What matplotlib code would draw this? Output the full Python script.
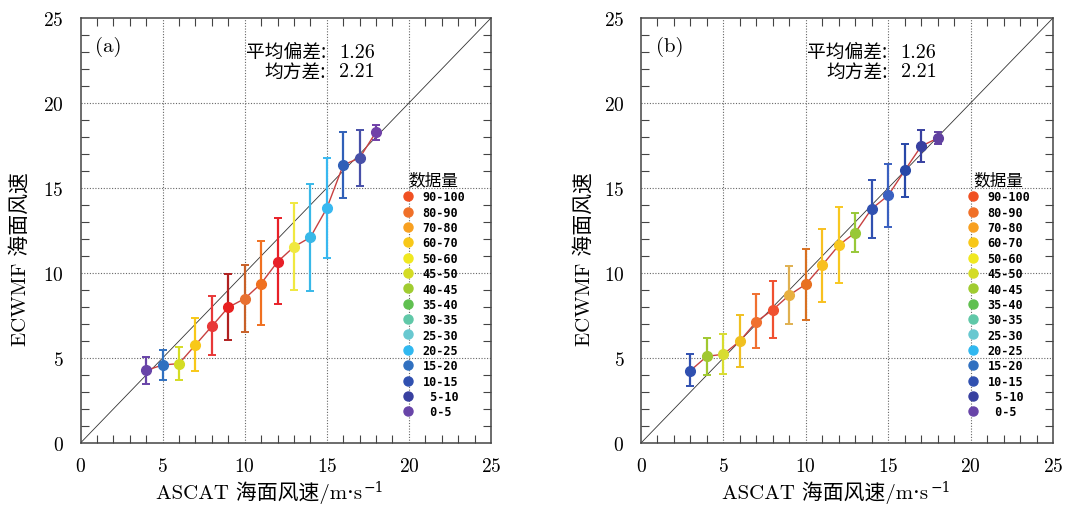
import matplotlib
matplotlib.use('Agg')
import matplotlib.pyplot as plt
from matplotlib.lines import Line2D
from matplotlib.ticker import FixedLocator

plt.rcParams['font.family'] = ['cmr10', 'DejaVu Serif', 'Noto Sans CJK SC']
plt.rcParams['axes.unicode_minus'] = False
plt.rcParams['axes.formatter.use_mathtext'] = True

# legend bins (数据量) and their colours
bins = ['90-100', '80-90', '70-80', '60-70', '50-60', '45-50', '40-45', '35-40',
        '30-35', '25-30', '20-25', '15-20', '10-15', ' 5-10', ' 0-5']
bin_colors = ['#f05022', '#f07028', '#f8a020', '#f8c818', '#f0e820', '#d4dc24',
              '#a0cc30', '#60c050', '#60c8a8', '#68c8d0', '#30b8f0', '#3070c0',
              '#3050b0', '#3840a0', '#6844a8']

# panel (a)
xa = [4, 5, 6, 7, 8, 9, 10, 11, 12, 13, 14, 15, 16, 17, 18]
ya = [4.27, 4.59, 4.67, 5.77, 6.87, 7.98, 8.49, 9.38, 10.66, 11.54, 12.10, 13.81, 16.35, 16.77, 18.30]
ya_hi = [5.04, 5.50, 5.63, 7.37, 8.63, 9.97, 10.48, 11.86, 13.22, 14.09, 15.23, 16.78, 18.30, 18.40, 18.72]
ya_lo = [3.49, 3.70, 3.68, 4.21, 5.16, 6.05, 6.52, 6.95, 8.16, 9.02, 8.96, 10.87, 14.42, 15.13, 17.85]
ca = ['#6844a8', '#3070c0', '#d4dc24', '#f8c818', '#e83838', '#e82020', '#e87030',
      '#f07020', '#e82028', '#f0e840', '#38b8e8', '#38b8f0', '#3060b8', '#4850a8', '#7040a8']
ea = ['#6844a8', '#3070c0', '#d4dc24', '#f8c818', '#e83838', '#b02020', '#c86028',
      '#f07020', '#e82028', '#f0e840', '#38b8e8', '#38b8f0', '#3060b8', '#4850a8', '#7040a8']

# panel (b)
xb = [3, 4, 5, 6, 7, 8, 9, 10, 11, 12, 13, 14, 15, 16, 17, 18]
yb = [4.26, 5.10, 5.22, 6.00, 7.14, 7.84, 8.70, 9.34, 10.46, 11.63, 12.38, 13.78, 14.56, 16.03, 17.46, 17.93]
yb_hi = [5.22, 6.18, 6.39, 7.53, 8.76, 9.52, 10.40, 11.44, 12.61, 13.86, 13.55, 15.50, 16.42, 17.60, 18.42, 18.32]
yb_lo = [3.36, 4.01, 4.05, 4.48, 5.57, 6.16, 7.00, 7.26, 8.29, 9.40, 11.24, 12.08, 12.69, 14.45, 16.52, 17.58]
cb = ['#3050b0', '#a0c830', '#d8dc30', '#f0c020', '#f07030', '#f05030', '#e8b040',
      '#e87020', '#f8c020', '#f8c820', '#98c838', '#3050b0', '#3a60c0', '#2848a8', '#3840a0', '#6040a0']
eb = ['#3050b0', '#a0c830', '#d8dc30', '#f0c020', '#f07030', '#f05030', '#e0b050',
      '#d87020', '#f8c020', '#f8c820', '#98c838', '#3050b0', '#3a60c0', '#2848a8', '#3840a0', '#6040a0']

bias = 1.26
rmse = 2.21


def draw_panel(ax, x, y, hi, lo, cols, ecols, tag, leg_x):
    ax.plot([0, 25], [0, 25], color='#333333', lw=0.6, zorder=2)
    ax.plot(x, y, color='#c84040', lw=1.0, zorder=3)
    for xi, yi, h, l, c, e in zip(x, y, hi, lo, cols, ecols):
        ax.errorbar(xi, yi, yerr=[[yi - l], [h - yi]], fmt='o', color=c, ecolor=e,
                    ms=7, mec=c, elinewidth=1.6, capsize=3, capthick=1.4, zorder=4)
    ax.set_xlim(0, 25)
    ax.set_ylim(0, 25)
    for g in [5, 10, 15, 20]:
        ax.axvline(g, color='#666666', ls=(0, (1, 1.5)), lw=0.8, zorder=1)
        ax.axhline(g, color='#666666', ls=(0, (1, 1.5)), lw=0.8, zorder=1)
    ax.xaxis.set_major_locator(FixedLocator([0, 5, 10, 15, 20, 25]))
    ax.yaxis.set_major_locator(FixedLocator([0, 5, 10, 15, 20, 25]))
    minors = [i for i in range(1, 25) if i % 5]
    ax.xaxis.set_minor_locator(FixedLocator(minors))
    ax.yaxis.set_minor_locator(FixedLocator(minors))
    ax.tick_params(which='major', length=0, labelsize=14)
    ax.tick_params(axis='x', which='major', pad=10)
    ax.tick_params(axis='y', which='major', pad=12)
    ax.tick_params(which='minor', direction='in', length=6, width=0.8, color='#444444',
                   top=True, right=True)
    for s in ax.spines.values():
        s.set_color('#444444')
        s.set_linewidth(1.1)
    ax.set_xlabel('ASCAT 海面风速/m·s', fontsize=15)
    ax.annotate('−1', xy=(1, 1), xycoords=ax.xaxis.label, xytext=(1.5, 0.5),
                textcoords='offset points', ha='left', va='top', fontsize=10,
                family=['DejaVu Serif'])
    ax.set_ylabel('ECWMF 海面风速', fontsize=15)
    ax.text(0.88, 23.37, tag, fontsize=15, va='center', ha='left')
    # statistics block: labels right-aligned at the colon, numbers after it
    ax.text(14.95, 22.45, '平均偏差:\n均方差:', fontsize=13.5, va='center', ha='right',
            multialignment='right', linespacing=0.95, family=['Noto Sans CJK SC'])
    ax.text(15.75, 22.45, f'{bias:.2f}\n{rmse:.2f}', fontsize=14.5, va='center',
            ha='left', linespacing=1.05)
    handles = [Line2D([], [], marker='o', ls='none', color=c, ms=6.5) for c in bin_colors]
    ax.legend(handles, bins, title='数据量', loc='upper left',
              bbox_to_anchor=(leg_x, 0.64), frameon=False,
              prop={'family': 'DejaVu Sans Mono', 'weight': 'bold', 'size': 8.5},
              title_fontproperties={'family': 'Noto Sans CJK SC', 'size': 12},
              handlelength=1.0, handletextpad=0.75, labelspacing=0.2,
              borderaxespad=0, borderpad=0)


fig = plt.figure(figsize=(10.65, 5.06), dpi=100)
ax1 = fig.add_axes([80.5 / 1065, 62 / 506, 410.5 / 1065, 425 / 506])
ax2 = fig.add_axes([641 / 1065, 62 / 506, 412 / 1065, 425 / 506])

draw_panel(ax1, xa, ya, ya_hi, ya_lo, ca, ea, '(a)', 0.783)
draw_panel(ax2, xb, yb, yb_hi, yb_lo, cb, eb, '(b)', 0.791)

ax1.xaxis.set_label_coords(0.434, -0.088)
ax1.yaxis.set_label_coords(-0.123, 0.435)
ax2.xaxis.set_label_coords(0.447, -0.088)
ax2.yaxis.set_label_coords(-0.116, 0.435)

fig.savefig('out.png', dpi=100)
